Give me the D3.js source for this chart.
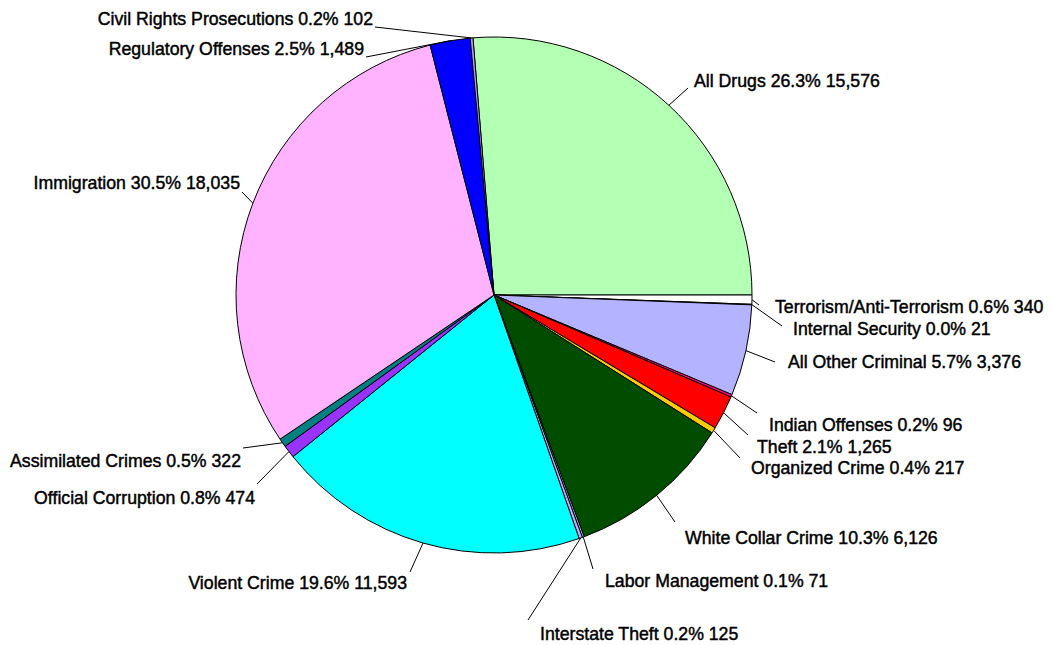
<!DOCTYPE html>
<html>
<head>
<meta charset="utf-8">
<script src="https://cdn.jsdelivr.net/npm/d3@7"></script>
<style>
  body { margin: 0; background: #fff; }
  svg text { font-family: "Liberation Sans", Arial, sans-serif; font-size: 17.7px; fill: #000;
             stroke: #000; stroke-width: 0.45px; }
</style>
</head>
<body>
<div id="chart"></div>
<script>
// offense categories, clockwise from All Drugs
var categories = ["All Drugs", "Terrorism/Anti-Terrorism", "Internal Security", "All Other Criminal",
    "Indian Offenses", "Theft", "Organized Crime", "White Collar Crime", "Labor Management",
    "Interstate Theft", "Violent Crime", "Official Corruption", "Assimilated Crimes",
    "Immigration", "Regulatory Offenses", "Civil Rights Prosecutions"];
var counts = [15576, 340, 21, 3376, 96, 1265, 217, 6126, 71, 125, 11593, 474, 322, 18035, 1489, 102];
var percentLabels = ["26.3%", "0.6%", "0.0%", "5.7%", "0.2%", "2.1%", "0.4%", "10.3%", "0.1%",
    "0.2%", "19.6%", "0.8%", "0.5%", "30.5%", "2.5%", "0.2%"];
var sliceColors = ["#b3ffb3", "#ffffff", "#ffffff", "#b3b3ff", "#ff0080", "#ff0000", "#ffcc00",
    "#004d00", "#b3b3ff", "#b3b3ff", "#00ffff", "#9933ff", "#008080", "#ffb3ff", "#0000ff", "#b399ff"];

// label placement: text x, baseline y, anchor, leader line end x, y
var labelLayout = [
    [694, 87, "start", 688, 88],
    [775, 313, "start", 759, 305],
    [793, 335, "start", 782, 326],
    [788, 368, "start", 775, 362],
    [769, 431, "start", 757, 413],
    [757, 453, "start", 748, 435],
    [751, 474, "start", 740, 458],
    [685, 544, "start", 675, 522],
    [605, 587, "start", 593, 569],
    [540, 640, "start", 528, 620],
    [407, 589, "end", 410, 572],
    [255, 504, "end", 257, 484],
    [241, 467, "end", 243, 448],
    [240, 189, "end", 242, 192],
    [364, 55, "end", 366, 57],
    [373, 25, "end", 375, 27]
];

var width = 1052, height = 645;
var cx = 494, cy = 295, radius = 258;

var svg = d3.select("#chart")
    .append("svg")
    .attr("width", width)
    .attr("height", height);

var total = d3.sum(counts);
var startAngle = Math.PI / 2 - counts[0] / total * 2 * Math.PI;

var pie = d3.pie()
    .sort(null)
    .value(function(d) { return d; })
    .startAngle(startAngle)
    .endAngle(startAngle + 2 * Math.PI);

var arcs = pie(counts);

var arc = d3.arc().innerRadius(0).outerRadius(radius);

var g = svg.append("g")
    .attr("transform", "translate(" + cx + "," + cy + ")");

g.selectAll("path.slice")
    .data(arcs)
    .enter()
    .append("path")
    .attr("class", "slice")
    .attr("d", arc)
    .style("fill", function(d, i) { return sliceColors[i]; })
    .style("stroke", "#000")
    .style("stroke-width", 1);

// leader lines from the slice edge to the label
svg.selectAll("line.leader")
    .data(arcs)
    .enter()
    .append("line")
    .attr("class", "leader")
    .attr("x1", function(d) { return cx + radius * Math.sin((d.startAngle + d.endAngle) / 2); })
    .attr("y1", function(d) { return cy - radius * Math.cos((d.startAngle + d.endAngle) / 2); })
    .attr("x2", function(d, i) { return labelLayout[i][3]; })
    .attr("y2", function(d, i) { return labelLayout[i][4]; })
    .style("stroke", "#000")
    .style("stroke-width", 1);

svg.selectAll("text.label")
    .data(arcs)
    .enter()
    .append("text")
    .attr("class", "label")
    .attr("x", function(d, i) { return labelLayout[i][0]; })
    .attr("y", function(d, i) { return labelLayout[i][1]; })
    .attr("text-anchor", function(d, i) { return labelLayout[i][2]; })
    .text(function(d, i) {
        return categories[i] + " " + percentLabels[i] + " " + d3.format(",")(counts[i]);
    });
</script>
</body>
</html>
